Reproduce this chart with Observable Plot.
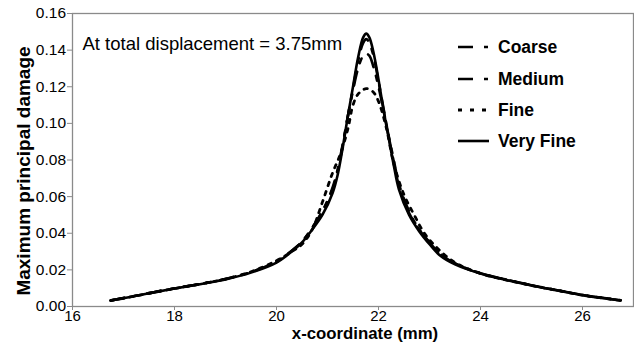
<!DOCTYPE html>
<html>
<head>
<meta charset="utf-8">
<script src="https://cdn.jsdelivr.net/npm/d3@7"></script>
<script src="https://cdn.jsdelivr.net/npm/@observablehq/plot@0.6"></script>
<style>
  html, body { margin: 0; padding: 0; background: #fff; }
  #chart svg { display: block; }
</style>
</head>
<body>
<div id="chart"></div>
<script>
// ---- data ----
const seriesNames = ["Coarse", "Medium", "Fine", "Very Fine"];

const xCoarse = [16.75,17,17.5,18,18.5,19,19.5,20,20.3,20.5,20.7,20.9,21.1,21.2,21.3,21.4,21.5,21.6,21.7,21.76,21.82,21.9,22.0,22.1,22.2,22.3,22.4,22.6,22.8,23.0,23.2,23.5,24,24.5,25,25.5,26,26.5,26.75];
const yCoarse = [0.0033,0.0046,0.0073,0.0099,0.0123,0.0150,0.0188,0.0245,0.0305,0.0355,0.043,0.052,0.064,0.074,0.088,0.104,0.119,0.134,0.144,0.146,0.144,0.137,0.123,0.108,0.093,0.079,0.066,0.051,0.042,0.035,0.029,0.0235,0.0182,0.0147,0.0116,0.0089,0.0063,0.0043,0.0034];

const xMedium = [16.75,17,17.5,18,18.5,19,19.5,20,20.3,20.5,20.7,20.9,21.1,21.2,21.3,21.4,21.5,21.6,21.7,21.76,21.82,21.9,22.0,22.1,22.2,22.3,22.4,22.6,22.8,23.0,23.2,23.5,24,24.5,25,25.5,26,26.5,26.75];
const yMedium = [0.0033,0.0046,0.0073,0.0099,0.0123,0.0150,0.0188,0.0245,0.0305,0.0355,0.043,0.052,0.065,0.075,0.089,0.104,0.118,0.130,0.137,0.138,0.137,0.131,0.120,0.107,0.093,0.080,0.067,0.052,0.042,0.035,0.029,0.0235,0.0182,0.0147,0.0116,0.0089,0.0063,0.0043,0.0034];

const xFine = [16.75,17,17.5,18,18.5,19,19.5,20,20.3,20.5,20.7,20.9,21.1,21.25,21.4,21.5,21.6,21.76,21.9,22.0,22.15,22.3,22.5,22.7,22.9,23.15,23.5,24,24.5,25,25.5,26,26.5,26.75];
const yFine = [0.0033,0.0045,0.0072,0.0098,0.0122,0.0150,0.0190,0.0250,0.0300,0.0340,0.042,0.057,0.073,0.083,0.097,0.110,0.116,0.119,0.117,0.112,0.098,0.078,0.061,0.050,0.040,0.032,0.024,0.018,0.0145,0.0115,0.0088,0.0062,0.0042,0.0033];

const xVeryFine = [16.75,17,17.5,18,18.5,19,19.5,20,20.3,20.5,20.7,20.9,21.1,21.2,21.3,21.4,21.5,21.6,21.7,21.76,21.82,21.9,22.0,22.1,22.2,22.3,22.4,22.6,22.8,23.0,23.2,23.5,24,24.5,25,25.5,26,26.5,26.75];
const yVeryFine = [0.0033,0.0045,0.0072,0.0098,0.0122,0.0148,0.0185,0.0240,0.0300,0.0350,0.042,0.050,0.062,0.072,0.087,0.104,0.120,0.136,0.147,0.149,0.147,0.139,0.124,0.107,0.092,0.077,0.064,0.050,0.041,0.034,0.028,0.023,0.018,0.0145,0.0115,0.0088,0.0062,0.0042,0.0033];

const xTicks = [16, 18, 20, 22, 24, 26];
const yTicks = [0, 0.02, 0.04, 0.06, 0.08, 0.10, 0.12, 0.14, 0.16];

const annotation = "At total displacement = 3.75mm";
const xLabel = "x-coordinate (mm)";
const yLabel = "Maximum principal damage";

// ---- build table ----
const seriesXY = {
  "Coarse": [xCoarse, yCoarse],
  "Medium": [xMedium, yMedium],
  "Fine": [xFine, yFine],
  "Very Fine": [xVeryFine, yVeryFine]
};
const styles = {
  "Coarse": {dash: "14,9,5,9", width: 2.6},
  "Medium": {dash: "14,9,5,9", width: 2.6},
  "Fine": {dash: "3.5,6", width: 2.8},
  "Very Fine": {dash: null, width: 2.6}
};
const rows = seriesNames.flatMap(name => {
  const [xs, ys] = seriesXY[name];
  return xs.map((x, i) => ({series: name, x, y: ys[i]}));
});

const W = 634, H = 342;
const FONT = "'Liberation Sans', Arial, Helvetica, sans-serif";

const lineMarks = seriesNames.map(name => Plot.line(rows.filter(d => d.series === name), {
  x: "x", y: "y",
  stroke: "#000",
  strokeWidth: styles[name].width,
  strokeDasharray: styles[name].dash,
  curve: "catmull-rom"
}));

const chart = Plot.plot({
  width: W,
  height: H,
  marginLeft: 72,
  marginRight: 1,
  marginTop: 13,
  marginBottom: 36,
  style: {fontFamily: FONT, fontSize: "15px", color: "#000", background: "#fff", overflow: "visible"},
  x: {domain: [16, 27], ticks: xTicks, tickFormat: d3.format("d"), label: null},
  y: {domain: [0, 0.16], ticks: yTicks, tickFormat: d3.format(".2f"), label: null},
  marks: [
    Plot.frame({stroke: "#8a8a8a", strokeWidth: 1.3}),
    Plot.axisX({ticks: xTicks, tickFormat: d3.format("d"), tickSize: 4, tickPadding: 0, stroke: "#8a8a8a", fill: "#000", fontSize: 15, label: null}),
    Plot.axisY({ticks: yTicks, tickFormat: d3.format(".2f"), tickSize: 5, tickPadding: 1.5, stroke: "#8a8a8a", fill: "#000", fontSize: 15.5, label: null}),
    ...lineMarks,
    Plot.text([annotation], {frameAnchor: "top-left", dx: 10, dy: 31, text: d => d, fontSize: 18.5, fill: "#000", textAnchor: "start", lineAnchor: "middle"})
  ]
});

document.getElementById("chart").appendChild(chart);

// ---- axis titles and legend drawn in pixel space ----
const svg = d3.select(chart);
svg.append("text")
  .attr("x", 365).attr("y", 338.5)
  .attr("text-anchor", "middle")
  .attr("font-family", FONT).attr("font-weight", "bold").attr("font-size", 16.8)
  .attr("fill", "#000")
  .text(xLabel);
svg.append("text")
  .attr("transform", "translate(30,171) rotate(-90)")
  .attr("text-anchor", "middle")
  .attr("font-family", FONT).attr("font-weight", "bold").attr("font-size", 19)
  .attr("fill", "#000")
  .text(yLabel);

const legendY = [47, 79, 110, 141];
const lg = svg.append("g");
seriesNames.forEach((name, i) => {
  const g = lg.append("g").attr("transform", `translate(458,${legendY[i]})`);
  g.append("line").attr("x1", 0).attr("x2", 31).attr("y1", 0).attr("y2", 0)
    .attr("stroke", "#000").attr("stroke-width", styles[name].width)
    .attr("stroke-dasharray", name === "Fine" ? "4,8" : (styles[name].dash ? "15,11,4,20" : null));
  g.append("text").attr("x", 40).attr("y", 0).attr("dy", "0.35em")
    .attr("text-anchor", "start")
    .attr("font-family", FONT).attr("font-weight", "bold").attr("font-size", 17.5)
    .attr("fill", "#000").text(name);
});
</script>
</body>
</html>
